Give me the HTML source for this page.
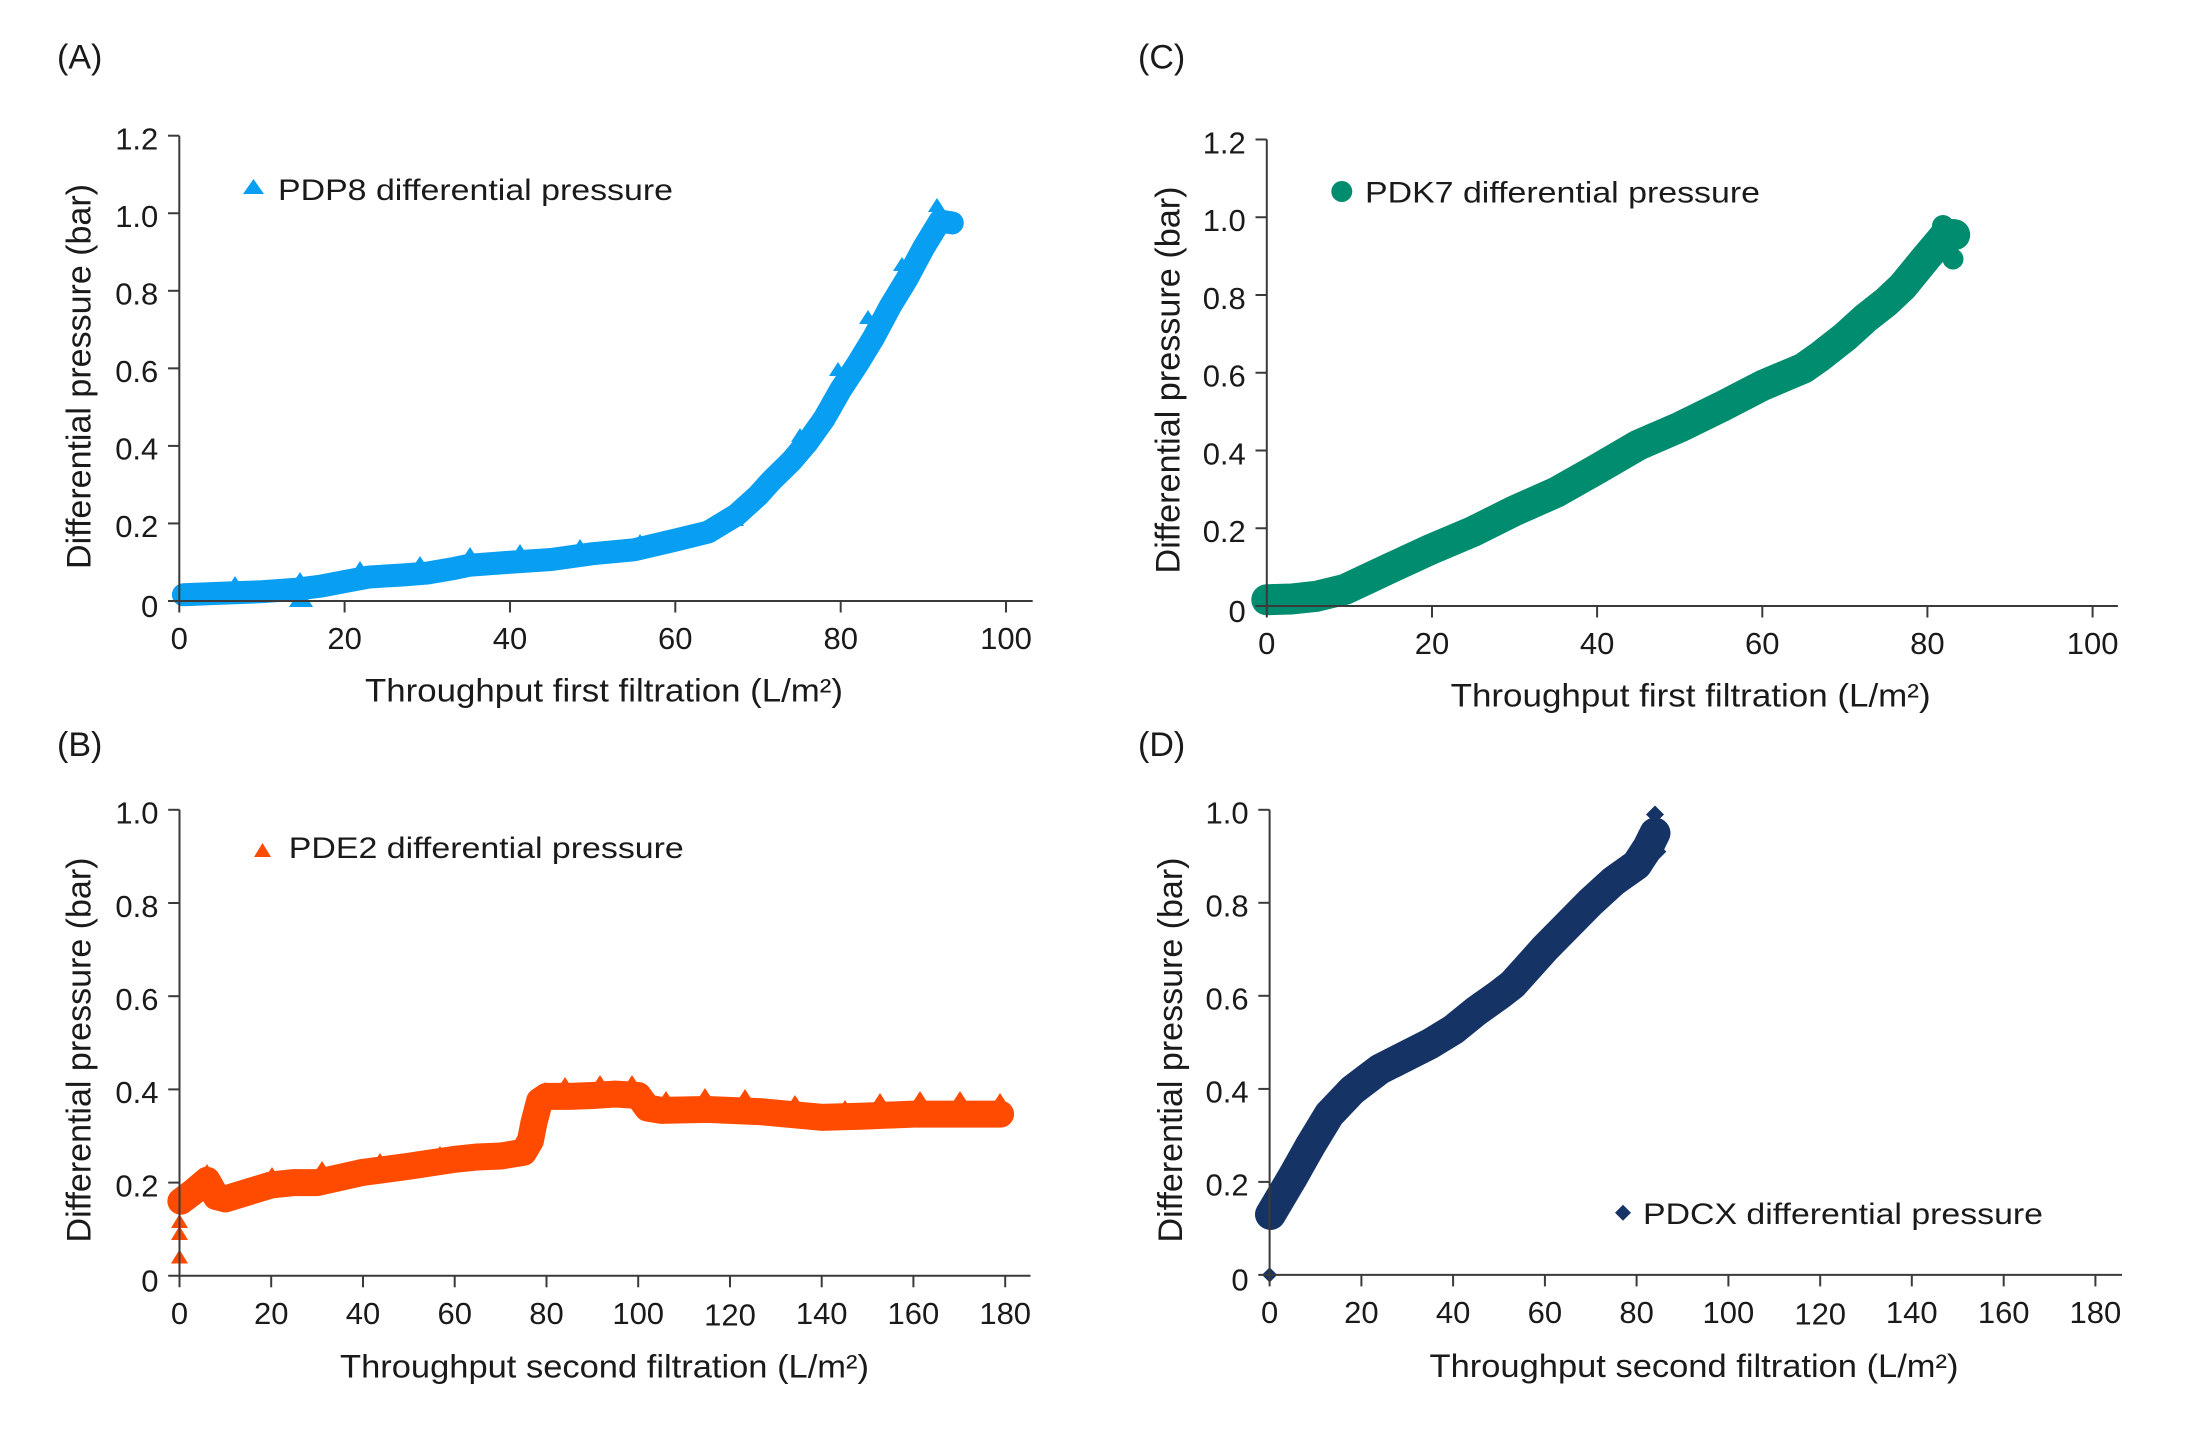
<!DOCTYPE html>
<html>
<head>
<meta charset="utf-8">
<style>
html,body{margin:0;padding:0;background:#fff;}
svg{display:block;}
text{font-family:"Liberation Sans",Arial,sans-serif;fill:#1a1a1a;}
.tk{font-size:31px;}
.ttl{font-size:32px;}
.yt{font-size:34px;}
.lg{font-size:30px;}
.pl{font-size:34px;}
.ax{stroke:#3a3a3a;stroke-width:2;fill:none;}
.band{fill:none;stroke-linejoin:round;stroke-linecap:round;}
</style>
</head>
<body>
<svg width="2200" height="1441" viewBox="0 0 2200 1441" xmlns="http://www.w3.org/2000/svg">
<defs>
  <polygon id="tb" points="-9,6 9,6 0,-8" fill="#089EF2"/>
  <polygon id="to" points="-9,6 9,6 0,-8" fill="#FF4B00"/>
</defs>
<rect x="0" y="0" width="2200" height="1441" fill="#fff"/>

<!-- Panel labels -->
<text class="pl" x="57" y="68.5">(A)</text>
<text class="pl" x="1138" y="68.5">(C)</text>
<text class="pl" x="57" y="756">(B)</text>
<text class="pl" x="1138" y="756">(D)</text>

<!-- ================= PANEL A ================= -->
<g>
  <g transform="translate(179.3,601) scale(8.267,-387.75)">
    <polyline class="band" vector-effect="non-scaling-stroke" stroke="#089EF2" stroke-width="23"
      points="0.5,0.016 5,0.02 10,0.024 14,0.03 17,0.038 20,0.05 23,0.062 27,0.067 30,0.072 33,0.083 35,0.092 40,0.1 45,0.107 50,0.122 55,0.132 60,0.157 64,0.178 67.4,0.222 70,0.272 71.6,0.31 74,0.36 76,0.41 78,0.47 80,0.545 82,0.61 84,0.68 86,0.76 88,0.83 90,0.91 92,0.98 93.5,0.975"/>
  </g>
  <use href="#tb" x="235" y="584"/>
  <use href="#tb" x="300" y="580"/>
  <use href="#tb" x="360" y="569"/>
  <use href="#tb" x="420" y="564"/>
  <use href="#tb" x="470" y="555"/>
  <use href="#tb" x="520" y="552"/>
  <use href="#tb" x="580" y="547"/>
  <use href="#tb" x="640" y="542"/>
  <use href="#tb" x="700" y="533"/>
  <use href="#tb" x="735" y="520"/>
  <use href="#tb" x="770" y="478"/>
  <use href="#tb" x="800" y="436"/>
  <use href="#tb" x="838" y="370"/>
  <use href="#tb" x="868" y="318"/>
  <use href="#tb" x="902" y="265"/>
  <polygon points="289,607 313,607 301,588" fill="#089EF2"/>
  <polygon points="928,212 946,212 937,198" fill="#089EF2"/>
  <line class="ax" x1="179.3" y1="135.7" x2="179.3" y2="612.5"/>
  <line class="ax" x1="168" y1="601" x2="1032.7" y2="601"/>
  <g class="ax">
    <line x1="168" y1="135.7" x2="179.3" y2="135.7"/>
    <line x1="168" y1="213.25" x2="179.3" y2="213.25"/>
    <line x1="168" y1="290.8" x2="179.3" y2="290.8"/>
    <line x1="168" y1="368.35" x2="179.3" y2="368.35"/>
    <line x1="168" y1="445.9" x2="179.3" y2="445.9"/>
    <line x1="168" y1="523.45" x2="179.3" y2="523.45"/>
    <line x1="344.6" y1="601" x2="344.6" y2="612.5"/>
    <line x1="510" y1="601" x2="510" y2="612.5"/>
    <line x1="675.3" y1="601" x2="675.3" y2="612.5"/>
    <line x1="840.7" y1="601" x2="840.7" y2="612.5"/>
    <line x1="1006" y1="601" x2="1006" y2="612.5"/>
  </g>
  <g class="tk" text-anchor="end">
    <text x="158.3" y="149.5">1.2</text>
    <text x="158.3" y="227">1.0</text>
    <text x="158.3" y="304.6">0.8</text>
    <text x="158.3" y="382.1">0.6</text>
    <text x="158.3" y="459.7">0.4</text>
    <text x="158.3" y="537.2">0.2</text>
    <text x="158.3" y="617">0</text>
  </g>
  <g class="tk" text-anchor="middle">
    <text x="179.3" y="649">0</text>
    <text x="344.6" y="649">20</text>
    <text x="510" y="649">40</text>
    <text x="675.3" y="649">60</text>
    <text x="840.7" y="649">80</text>
    <text x="1006" y="649">100</text>
  </g>
  <text class="ttl" x="604" y="701.7" text-anchor="middle" textLength="478" lengthAdjust="spacingAndGlyphs">Throughput first filtration (L/m²)</text>
  <text class="yt" transform="translate(90.5,376.5) rotate(-90)" text-anchor="middle" textLength="385" lengthAdjust="spacingAndGlyphs">Differential pressure (bar)</text>
  <polygon points="243,194 264,194 253.5,179" fill="#089EF2"/>
  <text class="lg" x="278" y="200" textLength="395" lengthAdjust="spacingAndGlyphs">PDP8 differential pressure</text>
</g>

<!-- ================= PANEL C ================= -->
<g>
  <g transform="translate(1266.8,606) scale(8.258,-388.75)">
    <polyline class="band" vector-effect="non-scaling-stroke" stroke="#008C6E" stroke-width="31"
      points="0,0.016 3,0.018 6,0.025 9.5,0.043 12,0.068 15,0.098 20,0.147 25,0.192 30,0.245 35,0.292 40,0.352 45,0.414 50,0.46 55,0.512 60,0.567 65,0.612 67,0.642 70,0.692 72.6,0.742 75,0.782 77,0.822 80,0.9 82,0.95 83.3,0.955"/>
  </g>
  <circle cx="1943" cy="226" r="11" fill="#008C6E"/>
  <circle cx="1953" cy="230" r="11" fill="#008C6E"/>
  <circle cx="1953" cy="259" r="10.5" fill="#008C6E"/>
  <line class="ax" x1="1266.8" y1="139.5" x2="1266.8" y2="617.5"/>
  <line class="ax" x1="1255.5" y1="606" x2="2117.9" y2="606"/>
  <g class="ax">
    <line x1="1255.5" y1="139.5" x2="1266.8" y2="139.5"/>
    <line x1="1255.5" y1="217.25" x2="1266.8" y2="217.25"/>
    <line x1="1255.5" y1="295" x2="1266.8" y2="295"/>
    <line x1="1255.5" y1="372.75" x2="1266.8" y2="372.75"/>
    <line x1="1255.5" y1="450.5" x2="1266.8" y2="450.5"/>
    <line x1="1255.5" y1="528.25" x2="1266.8" y2="528.25"/>
    <line x1="1432" y1="606" x2="1432" y2="617.5"/>
    <line x1="1597.1" y1="606" x2="1597.1" y2="617.5"/>
    <line x1="1762.3" y1="606" x2="1762.3" y2="617.5"/>
    <line x1="1927.4" y1="606" x2="1927.4" y2="617.5"/>
    <line x1="2092.6" y1="606" x2="2092.6" y2="617.5"/>
  </g>
  <g class="tk" text-anchor="end">
    <text x="1245.8" y="153.3">1.2</text>
    <text x="1245.8" y="231">1.0</text>
    <text x="1245.8" y="308.8">0.8</text>
    <text x="1245.8" y="386.5">0.6</text>
    <text x="1245.8" y="464.3">0.4</text>
    <text x="1245.8" y="542">0.2</text>
    <text x="1245.8" y="622">0</text>
  </g>
  <g class="tk" text-anchor="middle">
    <text x="1266.8" y="654">0</text>
    <text x="1432" y="654">20</text>
    <text x="1597.1" y="654">40</text>
    <text x="1762.3" y="654">60</text>
    <text x="1927.4" y="654">80</text>
    <text x="2092.6" y="654">100</text>
  </g>
  <text class="ttl" x="1690.6" y="706.7" text-anchor="middle" textLength="480" lengthAdjust="spacingAndGlyphs">Throughput first filtration (L/m²)</text>
  <text class="yt" transform="translate(1179.6,380) rotate(-90)" text-anchor="middle" textLength="387" lengthAdjust="spacingAndGlyphs">Differential pressure (bar)</text>
  <circle cx="1341.8" cy="191.5" r="10.5" fill="#008C6E"/>
  <text class="lg" x="1365" y="202.6" textLength="395" lengthAdjust="spacingAndGlyphs">PDK7 differential pressure</text>
</g>

<!-- ================= PANEL B ================= -->
<g>
  <g transform="translate(179.5,1275.8) scale(4.587,-466)">
    <polyline class="band" vector-effect="non-scaling-stroke" stroke="#FF4B00" stroke-width="27"
      points="0.3,0.16 3,0.18 6,0.205 8,0.17 10,0.165 15,0.18 20,0.195 25,0.2 30,0.2 40,0.222 50,0.235 60,0.25 65,0.255 70,0.257 75,0.265 76.5,0.29 77.3,0.33 78.5,0.375 80,0.385 85,0.385 90,0.387 95,0.39 100,0.387 102,0.36 105,0.355 115,0.357 127,0.352 140,0.34 150,0.343 160,0.347 170,0.347 179,0.347"/>
  </g>
  <use href="#to" x="207" y="1172"/>
  <use href="#to" x="272" y="1175"/>
  <use href="#to" x="322" y="1169"/>
  <use href="#to" x="380" y="1161"/>
  <use href="#to" x="440" y="1154"/>
  <use href="#to" x="500" y="1150"/>
  <use href="#to" x="530" y="1143"/>
  <use href="#to" x="545" y="1090"/>
  <use href="#to" x="565" y="1085"/>
  <use href="#to" x="600" y="1083"/>
  <use href="#to" x="632" y="1083"/>
  <use href="#to" x="666" y="1099"/>
  <use href="#to" x="705" y="1096"/>
  <use href="#to" x="745" y="1097"/>
  <use href="#to" x="795" y="1103"/>
  <use href="#to" x="845" y="1108"/>
  <use href="#to" x="880" y="1101"/>
  <use href="#to" x="920" y="1099"/>
  <use href="#to" x="960" y="1099"/>
  <use href="#to" x="1000" y="1101"/>
  <polygon points="171,1263.5 188,1263.5 179.5,1249.5" fill="#FF4B00"/>
  <polygon points="171,1240 188,1240 179.5,1226" fill="#FF4B00"/>
  <polygon points="171,1228 188,1228 179.5,1214" fill="#FF4B00"/>
  <line class="ax" x1="179.5" y1="809.8" x2="179.5" y2="1287.3"/>
  <line class="ax" x1="168.2" y1="1275.8" x2="1030.5" y2="1275.8"/>
  <g class="ax">
    <line x1="168.2" y1="809.8" x2="179.5" y2="809.8"/>
    <line x1="168.2" y1="903" x2="179.5" y2="903"/>
    <line x1="168.2" y1="996.2" x2="179.5" y2="996.2"/>
    <line x1="168.2" y1="1089.4" x2="179.5" y2="1089.4"/>
    <line x1="168.2" y1="1182.6" x2="179.5" y2="1182.6"/>
    <line x1="271.2" y1="1275.8" x2="271.2" y2="1287.3"/>
    <line x1="363" y1="1275.8" x2="363" y2="1287.3"/>
    <line x1="454.7" y1="1275.8" x2="454.7" y2="1287.3"/>
    <line x1="546.5" y1="1275.8" x2="546.5" y2="1287.3"/>
    <line x1="638.2" y1="1275.8" x2="638.2" y2="1287.3"/>
    <line x1="730" y1="1275.8" x2="730" y2="1287.3"/>
    <line x1="821.7" y1="1275.8" x2="821.7" y2="1287.3"/>
    <line x1="913.4" y1="1275.8" x2="913.4" y2="1287.3"/>
    <line x1="1005.2" y1="1275.8" x2="1005.2" y2="1287.3"/>
  </g>
  <g class="tk" text-anchor="end">
    <text x="158.5" y="823.6">1.0</text>
    <text x="158.5" y="916.8">0.8</text>
    <text x="158.5" y="1010">0.6</text>
    <text x="158.5" y="1103.2">0.4</text>
    <text x="158.5" y="1196.4">0.2</text>
    <text x="158.5" y="1291.5">0</text>
  </g>
  <g class="tk" text-anchor="middle">
    <text x="179.5" y="1323.8">0</text>
    <text x="271.2" y="1323.8">20</text>
    <text x="363" y="1323.8">40</text>
    <text x="454.7" y="1323.8">60</text>
    <text x="546.5" y="1323.8">80</text>
    <text x="638.2" y="1323.8">100</text>
    <text x="730" y="1325.5">120</text>
    <text x="821.7" y="1323.8">140</text>
    <text x="913.4" y="1323.8">160</text>
    <text x="1005.2" y="1323.8">180</text>
  </g>
  <text class="ttl" x="604.5" y="1377.5" text-anchor="middle" textLength="529" lengthAdjust="spacingAndGlyphs">Throughput second filtration (L/m²)</text>
  <text class="yt" transform="translate(90.5,1050) rotate(-90)" text-anchor="middle" textLength="385" lengthAdjust="spacingAndGlyphs">Differential pressure (bar)</text>
  <polygon points="254,857 271,857 262.5,843" fill="#FF4B00"/>
  <text class="lg" x="288.8" y="858" textLength="395" lengthAdjust="spacingAndGlyphs">PDE2 differential pressure</text>
</g>

<!-- ================= PANEL D ================= -->
<g>
  <g transform="translate(1269.6,1274.9) scale(4.588,-465.1)">
    <polyline class="band" vector-effect="non-scaling-stroke" stroke="#163366" stroke-width="31"
      points="0.2,0.13 2,0.16 5,0.21 9,0.28 13,0.345 18,0.397 24,0.442 30,0.472 35,0.497 40,0.527 45,0.567 50,0.602 53,0.625 60,0.702 65,0.752 70,0.802 75,0.847 80,0.882 82.5,0.92 84,0.95"/>
  </g>
  <polygon points="1646,814.5 1655,805.5 1664,814.5 1655,823.5" fill="#163366"/>
  <polygon points="1648.3,851.6 1657.3,842.6 1666.3,851.6 1657.3,860.6" fill="#163366"/>
  <polygon points="1262,1274.9 1269.6,1267.3 1277.2,1274.9 1269.6,1282.5" fill="#163366"/>
  <line class="ax" x1="1269.6" y1="809.8" x2="1269.6" y2="1286.4"/>
  <line class="ax" x1="1258.3" y1="1274.9" x2="2122" y2="1274.9"/>
  <g class="ax">
    <line x1="1258.3" y1="809.8" x2="1269.6" y2="809.8"/>
    <line x1="1258.3" y1="902.8" x2="1269.6" y2="902.8"/>
    <line x1="1258.3" y1="995.8" x2="1269.6" y2="995.8"/>
    <line x1="1258.3" y1="1088.9" x2="1269.6" y2="1088.9"/>
    <line x1="1258.3" y1="1181.9" x2="1269.6" y2="1181.9"/>
    <line x1="1361.4" y1="1274.9" x2="1361.4" y2="1286.4"/>
    <line x1="1453.1" y1="1274.9" x2="1453.1" y2="1286.4"/>
    <line x1="1544.9" y1="1274.9" x2="1544.9" y2="1286.4"/>
    <line x1="1636.6" y1="1274.9" x2="1636.6" y2="1286.4"/>
    <line x1="1728.4" y1="1274.9" x2="1728.4" y2="1286.4"/>
    <line x1="1820.2" y1="1274.9" x2="1820.2" y2="1286.4"/>
    <line x1="1911.8" y1="1274.9" x2="1911.8" y2="1286.4"/>
    <line x1="2003.7" y1="1274.9" x2="2003.7" y2="1286.4"/>
    <line x1="2095.4" y1="1274.9" x2="2095.4" y2="1286.4"/>
  </g>
  <g class="tk" text-anchor="end">
    <text x="1248.6" y="823.6">1.0</text>
    <text x="1248.6" y="916.6">0.8</text>
    <text x="1248.6" y="1009.6">0.6</text>
    <text x="1248.6" y="1102.7">0.4</text>
    <text x="1248.6" y="1195.7">0.2</text>
    <text x="1248.6" y="1290.5">0</text>
  </g>
  <g class="tk" text-anchor="middle">
    <text x="1269.6" y="1323">0</text>
    <text x="1361.4" y="1323">20</text>
    <text x="1453.1" y="1323">40</text>
    <text x="1544.9" y="1323">60</text>
    <text x="1636.6" y="1323">80</text>
    <text x="1728.4" y="1323">100</text>
    <text x="1820.2" y="1324.7">120</text>
    <text x="1911.8" y="1323">140</text>
    <text x="2003.7" y="1323">160</text>
    <text x="2095.4" y="1323">180</text>
  </g>
  <text class="ttl" x="1694" y="1377" text-anchor="middle" textLength="529" lengthAdjust="spacingAndGlyphs">Throughput second filtration (L/m²)</text>
  <text class="yt" transform="translate(1182,1050) rotate(-90)" text-anchor="middle" textLength="385" lengthAdjust="spacingAndGlyphs">Differential pressure (bar)</text>
  <polygon points="1615,1212.7 1623,1204.7 1631,1212.7 1623,1220.7" fill="#163366"/>
  <text class="lg" x="1643" y="1224" textLength="400" lengthAdjust="spacingAndGlyphs">PDCX differential pressure</text>
</g>
</svg>
</body>
</html>
